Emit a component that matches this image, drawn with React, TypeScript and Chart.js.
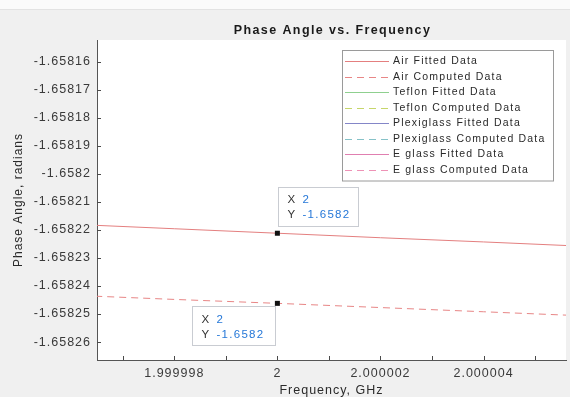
import React, { useEffect, useRef } from 'react';
import { Chart, registerables } from 'chart.js';

Chart.register(...registerables);

// Frequency samples (GHz) and phase angle values (radians)
const frequencies = [1.999996, 1.999998, 2, 2.000002, 2.000004, 2.000006];
const airFitted = [-1.658218, -1.6582196, -1.6582212, -1.6582228, -1.6582243, -1.6582259];
const airComputed = [-1.6582433, -1.6582448, -1.6582462, -1.6582477, -1.6582492, -1.6582507];
const teflonFitted: number[] = [];
const teflonComputed: number[] = [];
const plexiglassFitted: number[] = [];
const plexiglassComputed: number[] = [];
const eglassFitted: number[] = [];
const eglassComputed: number[] = [];

const seriesLabels = [
  'Air Fitted Data',
  'Air Computed Data',
  'Teflon Fitted Data',
  'Teflon Computed Data',
  'Plexiglass Fitted Data',
  'Plexiglass Computed Data',
  'E glass Fitted Data',
  'E glass Computed Data',
];
const seriesValues = [
  airFitted,
  airComputed,
  teflonFitted,
  teflonComputed,
  plexiglassFitted,
  plexiglassComputed,
  eglassFitted,
  eglassComputed,
];
const seriesColors = [
  '#e47f7f',
  '#e88686',
  '#8fd08f',
  '#c6d66a',
  '#8486c8',
  '#86c2c8',
  '#e07fb0',
  '#ee92b6',
];
const seriesDashed = [false, true, false, true, false, true, false, true];

const xTickValues = [1.999997, 1.999998, 1.999999, 2, 2.000001, 2.000002, 2.000003, 2.000004, 2.000005];
const xTickLabels = ['', '1.999998', '', '2', '', '2.000002', '', '2.000004', ''];
const yTickValues = [
  -1.65826, -1.65825, -1.65824, -1.65823, -1.65822, -1.65821, -1.6582, -1.65819, -1.65818, -1.65817, -1.65816,
];
const yTickLabels = [
  '-1.65826', '-1.65825', '-1.65824', '-1.65823', '-1.65822', '-1.65821', '-1.6582', '-1.65819', '-1.65818',
  '-1.65817', '-1.65816',
];
const xRange = [1.9999965, 2.0000056];
const yRange = [-1.6582664, -1.6581523];

const chartTitle = 'Phase Angle vs. Frequency';
const xTitle = 'Frequency, GHz';
const yTitle = 'Phase Angle, radians';

// Data tips: which series, at which frequency, and the text they show
const tipSeries = [0, 1];
const tipFrequency = 2;
const tipXText = '2';
const tipYText = '-1.6582';

const FONT = '"Liberation Sans", Arial, Helvetica, sans-serif';

const figurePlugin = {
  id: 'figureDecor',
  beforeDraw(chart: any) {
    const { ctx, chartArea: a, width, height } = chart;
    ctx.save();
    ctx.fillStyle = '#f0f0f0';
    ctx.fillRect(0, 0, width, height);
    ctx.fillStyle = '#fbfbfb';
    ctx.fillRect(0, 0, width, 9);
    ctx.fillStyle = '#e3e3e3';
    ctx.fillRect(0, 9, width, 1);
    ctx.fillStyle = '#ffffff';
    ctx.fillRect(a.left, a.top, a.right - a.left, a.bottom - a.top);
    ctx.restore();
    // wide text, applied to the axis labels drawn by the scales
    ctx.letterSpacing = '1px';
  },
  afterDraw(chart: any) {
    const { ctx, chartArea: a } = chart;
    const xs = chart.scales.x;
    const ys = chart.scales.y;

    ctx.save();
    // inward tick marks
    ctx.strokeStyle = '#4a4a4a';
    ctx.lineWidth = 1;
    ctx.beginPath();
    xs.ticks.forEach((t: any) => {
      const px = Math.round(xs.getPixelForValue(t.value)) + 0.5;
      ctx.moveTo(px, a.bottom);
      ctx.lineTo(px, a.bottom - 4);
    });
    ys.ticks.forEach((t: any) => {
      const py = Math.round(ys.getPixelForValue(t.value)) + 0.5;
      ctx.moveTo(a.left, py);
      ctx.lineTo(a.left + 4, py);
    });
    ctx.stroke();

    // title
    ctx.letterSpacing = '1.4px';
    ctx.font = `bold 12.5px ${FONT}`;
    ctx.fillStyle = '#1a1a1a';
    ctx.textAlign = 'center';
    ctx.textBaseline = 'middle';
    ctx.fillText(chartTitle, (a.left + a.right) / 2 + 1, 31);

    // legend
    const lgRight = a.right - 13;
    const lgLeft = a.left + 245;
    const lgTop = a.top + 10;
    const rowH = 15.5;
    const lgBottom = lgTop + 11 + rowH * (seriesLabels.length - 1) + 11;
    ctx.fillStyle = '#ffffff';
    ctx.fillRect(lgLeft, lgTop, lgRight - lgLeft, lgBottom - lgTop);
    ctx.strokeStyle = '#9a9a9a';
    ctx.strokeRect(lgLeft + 0.5, lgTop + 0.5, lgRight - lgLeft, lgBottom - lgTop);
    ctx.font = `10.5px ${FONT}`;
    ctx.letterSpacing = '1.2px';
    ctx.textAlign = 'left';
    chart.data.datasets.forEach((ds: any, i: number) => {
      const y = Math.round(lgTop + 11 + i * rowH) + 0.5;
      ctx.strokeStyle = ds.borderColor;
      ctx.setLineDash(ds.borderDash || []);
      ctx.beginPath();
      ctx.moveTo(lgLeft + 3, y);
      ctx.lineTo(lgLeft + 47, y);
      ctx.stroke();
      ctx.setLineDash([]);
      ctx.fillStyle = '#2a2a2a';
      ctx.fillText(ds.label, lgLeft + 51, y);
    });

    // data tips
    tipSeries.forEach((si, k) => {
      const ds = chart.data.datasets[si];
      const pt = ds.data.find((p: any) => p.x === tipFrequency);
      if (!pt) return;
      const mx = xs.getPixelForValue(pt.x);
      const my = ys.getPixelForValue(pt.y);
      const w = k === 0 ? 80 : 83;
      const h = 39;
      const bx = k === 0 ? mx + 1 : mx - w - 2;
      const by = k === 0 ? my - h - 7 : my + 3;
      ctx.fillStyle = 'rgba(255,255,255,0.92)';
      ctx.fillRect(bx, by, w, h);
      ctx.strokeStyle = '#c9ccd2';
      ctx.strokeRect(Math.round(bx) + 0.5, Math.round(by) + 0.5, w, h);
      ctx.font = `11.5px ${FONT}`;
      ctx.letterSpacing = '1.3px';
      ctx.textAlign = 'left';
      ctx.fillStyle = '#333333';
      ctx.fillText('X', bx + 9, by + 13);
      ctx.fillText('Y', bx + 9, by + 28);
      ctx.fillStyle = '#2678d8';
      ctx.fillText(tipXText, bx + 24, by + 13);
      ctx.fillText(tipYText, bx + 24, by + 28);
      ctx.fillStyle = '#111111';
      ctx.fillRect(mx - 2.5, my - 2.5, 5, 5);
    });
    ctx.restore();
  },
};

export default function App() {
  const canvasRef = useRef<HTMLCanvasElement | null>(null);

  useEffect(() => {
    const canvas = canvasRef.current;
    if (!canvas) return;
    const datasets = seriesLabels.map((label, i) => ({
      label,
      data: seriesValues[i].map((v, j) => ({ x: frequencies[j], y: v })),
      borderColor: seriesColors[i],
      backgroundColor: seriesColors[i],
      borderWidth: 1,
      borderDash: seriesDashed[i] ? [7, 5] : [],
      pointRadius: 0,
      fill: false,
      tension: 0,
    }));

    const chart = new Chart(canvas, {
      type: 'line',
      data: { datasets },
      plugins: [figurePlugin],
      options: {
        responsive: false,
        animation: false,
        devicePixelRatio: 1,
        layout: { padding: { top: 40, right: 4, left: 0, bottom: 0 } },
        plugins: {
          legend: { display: false },
          tooltip: { enabled: false },
          title: { display: false },
        },
        scales: {
          x: {
            type: 'linear',
            min: xRange[0],
            max: xRange[1],
            afterBuildTicks: (scale: any) => {
              scale.ticks = xTickValues.map((v) => ({ value: v }));
            },
            afterFit: (scale: any) => {
              scale.height = 37;
            },
            ticks: {
              autoSkip: false,
              maxRotation: 0,
              padding: 6,
              color: '#3a3a3a',
              font: { family: FONT, size: 12.5 },
              callback: (_v: any, i: number) => xTickLabels[i],
            },
            grid: { drawOnChartArea: false, drawTicks: false },
            border: { display: true, color: '#555555', width: 1 },
            title: {
              display: true,
              text: xTitle,
              color: '#2a2a2a',
              font: { family: FONT, size: 12.5, lineHeight: 1 },
              padding: { top: 0, bottom: 0 },
            },
          },
          y: {
            type: 'linear',
            min: yRange[0],
            max: yRange[1],
            afterBuildTicks: (scale: any) => {
              scale.ticks = yTickValues.map((v) => ({ value: v }));
            },
            afterFit: (scale: any) => {
              scale.width = 97;
            },
            ticks: {
              autoSkip: false,
              padding: 6,
              color: '#3a3a3a',
              font: { family: FONT, size: 12.5 },
              callback: (_v: any, i: number) => yTickLabels[i],
            },
            grid: { drawOnChartArea: false, drawTicks: false },
            border: { display: true, color: '#555555', width: 1 },
            title: {
              display: true,
              text: yTitle,
              color: '#2a2a2a',
              font: { family: FONT, size: 12, lineHeight: 1.2 },
              padding: { top: 11, bottom: 0 },
            },
          },
        },
      },
    });
    return () => chart.destroy();
  }, []);

  return (
    <div style={{ position: 'absolute', left: 0, top: 0, width: 570, height: 397 }}>
      <canvas ref={canvasRef} width={570} height={397} style={{ display: 'block' }} />
    </div>
  );
}
